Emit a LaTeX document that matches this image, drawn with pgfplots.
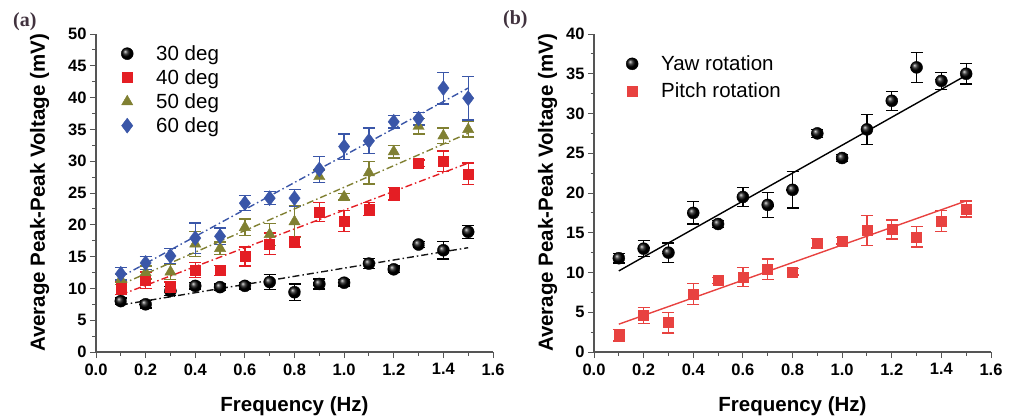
\documentclass[border=0pt]{standalone}
\usepackage{fontspec}
\setmainfont{Liberation Sans}
\newfontfamily\serifpanel{Liberation Serif}
\usepackage{pgfplots}
\pgfplotsset{compat=1.18}
\definecolor{deg30}{RGB}{20,20,20}
\definecolor{deg40}{RGB}{228,30,36}
\definecolor{deg50}{RGB}{128,128,50}
\definecolor{deg60}{RGB}{58,86,168}
\definecolor{pitch}{RGB}{232,66,64}
\definecolor{axgray}{RGB}{85,85,85}
\definecolor{panel}{RGB}{65,50,62}

\pgfplotsset{
  panelaxis/.style={
    width=397pt, height=318pt, scale only axis,
    xmin=0, xmax=1.6, xtick={0,0.2,...,1.6},
    minor x tick num=1, minor y tick num=1,
    axis x line*=bottom, axis y line*=left,
    tick align=outside,
    major tick length=6pt, minor tick length=3.5pt,
    every tick/.style={axgray, line width=1pt},
    axis line style={axgray, line width=1.2pt, -},
    x tick label style={/pgf/number format/.cd, fixed, fixed zerofill, precision=1},
    tick label style={font=\bfseries\fontsize{16.5}{18}\selectfont, /pgf/number format/assume math mode=true},
    xticklabel shift=2pt,
    label style={font=\bfseries\fontsize{20.5}{22}\selectfont},
    xlabel={Frequency (Hz)},
    ylabel={Average Peak-Peak Voltage (mV)},
    xlabel style={yshift=-15pt},
    legend cell align=left,
    legend style={draw=none, fill=none, font=\fontsize{20.5}{22}\selectfont,
      inner sep=0pt, nodes={inner sep=0pt, text height=15pt, text depth=5pt}},
    legend image code/.code={
      \path[draw=none, fill=none] (-10pt,0pt) -- (29pt,0pt);
      \draw[##1] plot coordinates {(0pt,2pt)};
    },
    error bars/error bar style={line width=1.3pt},
    error bars/error mark options={rotate=90, mark size=6pt, line width=1.3pt},
  },
  balls/.style={only marks, mark=ball, mark size=6pt, ball color=black, draw=black,
    error bars/.cd, y dir=both, y explicit, error bar style={black, line width=1.3pt},
    error mark options={black, rotate=90, mark size=6pt, line width=1.3pt}},
  fitline/.style={line width=1.4pt, dash pattern=on 7pt off 3pt on 1.5pt off 3pt, forget plot},
}

\begin{document}
\begin{tikzpicture}
\path (0,0) rectangle (1015pt,419pt);
\node[anchor=north west, inner sep=0pt, text=panel] at (13pt,407pt) {\serifpanel\bfseries\fontsize{20}{22}\selectfont (a)};
\node[anchor=north west, inner sep=0pt, text=panel] at (503pt,409pt) {\serifpanel\bfseries\fontsize{20}{22}\selectfont (b)};

% ---------- (a) ----------
\begin{axis}[panelaxis, at={(96pt,67pt)}, anchor=south west,
  ymin=0, ymax=50, ytick={0,5,...,50},
  ylabel style={yshift=12pt},
  legend style={at={(0.053,0.964)}, anchor=north west, row sep=4pt}]
\addplot[balls] coordinates {
  (0.1,8.0) +- (0,0.5)
  (0.2,7.5) +- (0,0.6)
  (0.3,9.6) +- (0,0.7)
  (0.4,10.4) +- (0,0.5)
  (0.5,10.2) +- (0,0.5)
  (0.6,10.4) +- (0,0.5)
  (0.7,11.0) +- (0,1.2)
  (0.8,9.4) +- (0,1.3)
  (0.9,10.7) +- (0,0.8)
  (1.0,10.9) +- (0,0.5)
  (1.1,13.9) +- (0,0.8)
  (1.2,13.0) +- (0,0.5)
  (1.3,16.9) +- (0,0.5)
  (1.4,16.0) +- (0,1.4)
  (1.5,18.9) +- (0,1.0)
};
\addlegendentry{30 deg}
\addplot[only marks, mark=square*, mark size=5pt, color=deg40,
  error bars/.cd, y dir=both, y explicit]
  coordinates {
  (0.1,10.0) +- (0,1.0)
  (0.2,11.3) +- (0,1.3)
  (0.3,10.2) +- (0,0.8)
  (0.4,12.9) +- (0,1.2)
  (0.5,12.8) +- (0,0.8)
  (0.6,15.0) +- (0,1.5)
  (0.7,17.0) +- (0,1.7)
  (0.8,17.3) +- (0,0.8)
  (0.9,22.0) +- (0,1.5)
  (1.0,20.6) +- (0,1.7)
  (1.1,22.5) +- (0,1.0)
  (1.2,24.9) +- (0,1.0)
  (1.3,29.7) +- (0,0.5)
  (1.4,30.0) +- (0,1.6)
  (1.5,28.0) +- (0,1.7)
};
\addlegendentry{40 deg}
\addplot[only marks, mark=triangle*, mark size=6.5pt, color=deg50,
  error bars/.cd, y dir=both, y explicit]
  coordinates {
  (0.1,11.4) +- (0,0.8)
  (0.2,12.5) +- (0,1.0)
  (0.3,12.6) +- (0,1.2)
  (0.4,17.0) +- (0,2.0)
  (0.5,16.3) +- (0,1.0)
  (0.6,19.6) +- (0,1.3)
  (0.7,18.5) +- (0,1.7)
  (0.8,20.5) +- (0,2.5)
  (0.9,27.6) +- (0,1.0)
  (1.0,24.4) +- (0,0.5)
  (1.1,28.2) +- (0,1.8)
  (1.2,31.5) +- (0,1.0)
  (1.3,35.5) +- (0,1.2)
  (1.4,34.0) +- (0,1.2)
  (1.5,35.0) +- (0,1.2)
};
\addlegendentry{50 deg}
\addplot[only marks, mark=diamond*, mark size=7.5pt, color=deg60,
  error bars/.cd, y dir=both, y explicit]
  coordinates {
  (0.1,12.3) +- (0,1.0)
  (0.2,14.0) +- (0,1.0)
  (0.3,15.1) +- (0,1.2)
  (0.4,17.9) +- (0,2.4)
  (0.5,18.2) +- (0,1.3)
  (0.6,23.4) +- (0,1.2)
  (0.7,24.2) +- (0,1.0)
  (0.8,24.2) +- (0,1.3)
  (0.9,28.7) +- (0,2.0)
  (1.0,32.3) +- (0,2.0)
  (1.1,33.2) +- (0,2.0)
  (1.2,36.2) +- (0,1.0)
  (1.3,36.7) +- (0,1.0)
  (1.4,41.5) +- (0,2.5)
  (1.5,39.9) +- (0,3.4)
};
\addlegendentry{60 deg}
\addplot[fitline, deg30] coordinates {(0.1,7.4) (1.5,16.4)};
\addplot[fitline, deg40] coordinates {(0.1,9.0) (1.5,29.7)};
\addplot[fitline, deg50] coordinates {(0.1,10.6) (1.5,34.4)};
\addplot[fitline, deg60] coordinates {(0.1,11.8) (1.5,41.5)};
\end{axis}

% ---------- (b) ----------
\begin{axis}[panelaxis, at={(594pt,67pt)}, anchor=south west,
  ymin=0, ymax=40, ytick={0,5,...,40},
  ylabel style={yshift=2pt},
  legend style={at={(0.0705,0.932)}, anchor=north west, row sep=7pt}]
\addplot[balls] coordinates {
  (0.1,11.8) +- (0,0.6)
  (0.2,13.0) +- (0,1.0)
  (0.3,12.5) +- (0,1.2)
  (0.4,17.5) +- (0,1.4)
  (0.5,16.1) +- (0,0.4)
  (0.6,19.5) +- (0,1.2)
  (0.7,18.5) +- (0,1.6)
  (0.8,20.4) +- (0,2.3)
  (0.9,27.5) +- (0,0.5)
  (1.0,24.4) +- (0,0.4)
  (1.1,28.0) +- (0,1.9)
  (1.2,31.6) +- (0,1.2)
  (1.3,35.8) +- (0,1.9)
  (1.4,34.1) +- (0,1.1)
  (1.5,35.0) +- (0,1.3)
};
\addlegendentry{Yaw rotation}
\addplot[only marks, mark=square*, mark size=5pt, color=pitch,
  error bars/.cd, y dir=both, y explicit]
  coordinates {
  (0.1,2.1) +- (0,0.7)
  (0.2,4.6) +- (0,1.0)
  (0.3,3.7) +- (0,1.3)
  (0.4,7.3) +- (0,1.3)
  (0.5,9.0) +- (0,0.4)
  (0.6,9.4) +- (0,1.2)
  (0.7,10.4) +- (0,1.3)
  (0.8,10.1) +- (0,0.4)
  (0.9,13.7) +- (0,0.6)
  (1.0,14.0) +- (0,0.4)
  (1.1,15.3) +- (0,1.9)
  (1.2,15.4) +- (0,1.2)
  (1.3,14.5) +- (0,1.3)
  (1.4,16.5) +- (0,1.3)
  (1.5,18.0) +- (0,1.0)
};
\addlegendentry{Pitch rotation}
\addplot[black, line width=1.4pt, forget plot] coordinates {(0.1,10.2) (1.5,34.8)};
\addplot[pitch, line width=1.4pt, forget plot] coordinates {(0.1,3.5) (1.5,19.0)};
\end{axis}
\end{tikzpicture}
\end{document}
